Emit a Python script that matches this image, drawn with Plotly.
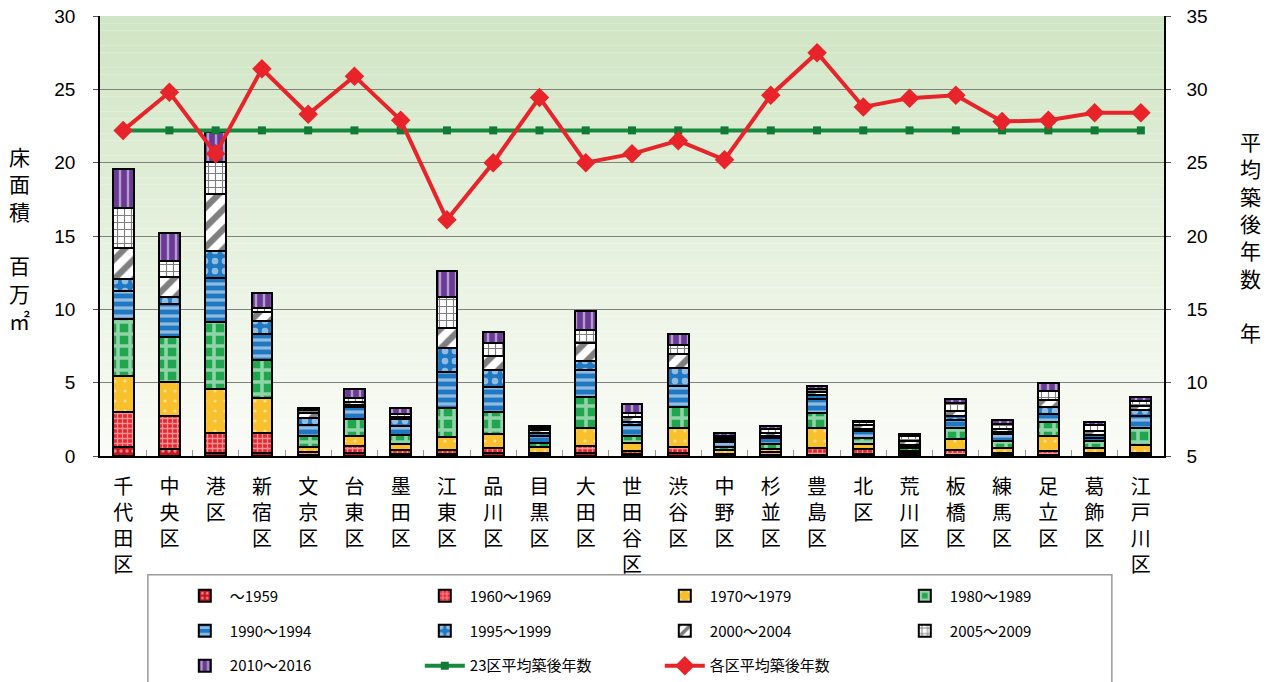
import plotly.graph_objects as go

wards = ["千代田区", "中央区", "港区", "新宿区", "文京区", "台東区", "墨田区", "江東区",
         "品川区", "目黒区", "大田区", "世田谷区", "渋谷区", "中野区", "杉並区", "豊島区",
         "北区", "荒川区", "板橋区", "練馬区", "足立区", "葛飾区", "江戸川区"]

# floor area (million m2) by construction period
p_1959 = [0.59, 0.50, 0.23, 0.18, 0.10, 0.18, 0.13, 0.11, 0.18, 0.05, 0.18, 0.11, 0.18, 0.05, 0.08, 0.10, 0.15, 0.08, 0.09, 0.08, 0.08, 0.08, 0.08]
p_1960s = [2.39, 2.25, 1.31, 1.41, 0.20, 0.50, 0.28, 0.30, 0.34, 0.18, 0.50, 0.23, 0.46, 0.12, 0.17, 0.42, 0.30, 0.10, 0.30, 0.15, 0.24, 0.15, 0.15]
p_1970s = [2.47, 2.27, 3.00, 2.34, 0.34, 0.68, 0.41, 0.91, 0.98, 0.36, 1.21, 0.52, 1.25, 0.25, 0.25, 1.37, 0.35, 0.15, 0.75, 0.30, 1.05, 0.34, 0.52]
p_1980s = [3.89, 3.11, 4.62, 2.61, 0.73, 1.18, 0.61, 1.98, 1.52, 0.27, 2.11, 0.52, 1.47, 0.20, 0.35, 1.06, 0.45, 0.20, 0.75, 0.50, 0.95, 0.45, 1.18]
p_1990_94 = [1.91, 2.23, 2.95, 1.78, 0.75, 0.82, 0.61, 2.45, 1.71, 0.50, 1.86, 0.73, 1.41, 0.35, 0.35, 0.94, 0.45, 0.15, 0.55, 0.45, 0.57, 0.23, 0.80]
p_1995_99 = [0.82, 0.50, 1.89, 0.91, 0.45, 0.10, 0.45, 1.59, 1.13, 0.18, 0.64, 0.23, 1.21, 0.12, 0.15, 0.25, 0.15, 0.10, 0.30, 0.18, 0.45, 0.18, 0.39]
p_2000_04 = [2.13, 1.36, 3.84, 0.61, 0.34, 0.22, 0.20, 1.41, 0.96, 0.20, 1.18, 0.30, 0.97, 0.12, 0.20, 0.20, 0.25, 0.25, 0.34, 0.20, 0.45, 0.27, 0.30]
p_2005_09 = [2.70, 1.07, 2.22, 0.23, 0.24, 0.30, 0.20, 2.11, 0.86, 0.18, 0.91, 0.31, 0.62, 0.15, 0.30, 0.25, 0.20, 0.30, 0.50, 0.30, 0.65, 0.39, 0.30]
p_2010_16 = [2.65, 1.93, 2.04, 1.02, 0.10, 0.61, 0.41, 1.77, 0.80, 0.15, 1.32, 0.57, 0.72, 0.20, 0.20, 0.20, 0.10, 0.15, 0.34, 0.27, 0.55, 0.23, 0.30]

# average building age (years)
ward_avg_age = [27.2, 29.8, 25.6, 31.4, 28.3, 30.9, 27.9, 21.1, 25.0, 29.45, 25.0, 25.6, 26.5, 25.2, 29.6, 32.5, 28.8, 29.4, 29.6, 27.8, 27.9, 28.4, 28.4]
all23_avg_age = [27.2, 27.2, 27.2, 27.2, 27.2, 27.2, 27.2, 27.2, 27.2, 27.2, 27.2, 27.2, 27.2, 27.2, 27.2, 27.2, 27.2, 27.2, 27.2, 27.2, 27.2, 27.2, 27.2]

series = [
    ("～1959", p_1959, "#c8141e", ".", "#ffffff", 6, 0.25, "legend"),
    ("1960～1969", p_1960s, "#e8262c", "+", "#ffffff", 5, 0.45, "legend"),
    ("1970～1979", p_1970s, "#f7c02c", ".", "#ffffff", 10, 0.08, "legend"),
    ("1980～1989", p_1980s, "#1fa64e", "+", "#ffffff", 12, 0.5, "legend"),
    ("1990～1994", p_1990_94, "#1f78c1", "-", "#ffffff", 8, 0.4, "legend2"),
    ("1995～1999", p_1995_99, "#1f78c1", ".", "#ffffff", 10, 0.35, "legend2"),
    ("2000～2004", p_2000_04, "#ffffff", "/", "#000000", 14, 0.45, "legend2"),
    ("2005～2009", p_2005_09, "#ffffff", "+", "#000000", 7, 0.3, "legend2"),
    ("2010～2016", p_2010_16, "#6a3a96", "|", "#ffffff", 8, 0.3, "legend3"),
]

tick_text = ["<br>".join(list(w)) for w in wards]

fig = go.Figure()
for name, vals, bg, shape, fg, size, sol, lg in series:
    fig.add_trace(go.Bar(
        x=wards, y=vals, name=name, legend=lg, width=0.45,
        marker=dict(color=bg, line=dict(color="#000000", width=2),
                    pattern=dict(shape=shape, fgcolor=fg, bgcolor=bg, size=size,
                                 solidity=sol, fillmode="overlay")),
        yaxis="y",
    ))

fig.add_trace(go.Scatter(
    x=wards, y=all23_avg_age, name="23区平均築後年数", legend="legend3", yaxis="y2",
    mode="lines+markers", line=dict(color="#178a3e", width=4),
    marker=dict(symbol="square", size=8, color="#117a35"),
))
fig.add_trace(go.Scatter(
    x=wards, y=ward_avg_age, name="各区平均築後年数", legend="legend3", yaxis="y2",
    mode="lines+markers", line=dict(color="#e8232a", width=4),
    marker=dict(symbol="diamond", size=15, color="#e8232a"),
))

# gradient background bands
shapes = []
n = 60
top = (208, 229, 195)
bot = (251, 252, 248)
for i in range(n):
    t = i / n
    c = tuple(int(round(bot[k] + (top[k] - bot[k]) * (t + 0.5 / n))) for k in range(3))
    shapes.append(dict(type="rect", xref="paper", yref="paper", x0=0, x1=1,
                       y0=t, y1=(i + 1) / n, fillcolor="rgb(%d,%d,%d)" % c,
                       line=dict(width=0), layer="below"))
# legend frame
shapes.append(dict(type="rect", xref="paper", yref="paper", x0=0.045, x1=0.951,
                   y0=-0.53, y1=-0.27, line=dict(color="#9a9a9a", width=1.5),
                   fillcolor="rgba(0,0,0,0)", layer="above"))

num_font = dict(family="Liberation Sans Narrow, Liberation Sans, Arial", size=19, color="#000000")
cjk = "Noto Sans CJK JP"

leg_common = dict(orientation="h", xanchor="left", yanchor="middle", entrywidth=185,
                  entrywidthmode="pixels", bgcolor="rgba(0,0,0,0)", borderwidth=0,
                  itemwidth=40, traceorder="normal",
                  font=dict(family="Liberation Sans Narrow, " + cjk, size=15, color="#000"))

fig.update_layout(
    width=1264, height=674,
    margin=dict(l=92, r=108, t=8, b=226, autoexpand=False),
    paper_bgcolor="#ffffff", plot_bgcolor="rgba(0,0,0,0)",
    barmode="stack",
    shapes=shapes,
    xaxis=dict(tickmode="array", tickvals=wards, ticktext=tick_text, range=[-0.5, 22.5],
               tickfont=dict(family=cjk, size=20, color="#000"), automargin=False,
               showline=True, linecolor="#000000", linewidth=1.5,
               ticks="inside", tickson="boundaries", ticklen=6, tickcolor="#999",
               ticklabelstandoff=12, showgrid=False),
    yaxis=dict(range=[0, 30], dtick=5, tickfont=num_font, showline=True, linecolor="#000",
               linewidth=1.5, showgrid=True, gridcolor="#808080", gridwidth=1.2,
               ticks="outside", ticklen=5, tickcolor="#555", ticklabelstandoff=14,
               zeroline=False, automargin=False, ticklabeloverflow="allow"),
    yaxis2=dict(range=[5, 35], dtick=5, tickfont=num_font, overlaying="y", side="right",
                showline=True, linecolor="#000", linewidth=1.5, showgrid=False,
                ticks="outside", ticklen=5, tickcolor="#555", ticklabelstandoff=12,
                zeroline=False, automargin=False, ticklabeloverflow="allow"),
    legend=dict(x=0.075, y=-0.318, **leg_common),
    legend2=dict(x=0.075, y=-0.398, **leg_common),
    legend3=dict(x=0.075, y=-0.477, **leg_common),
    showlegend=True,
    annotations=[
        dict(text="床<br>面<br>積<br><br>百<br>万<br>㎡", xref="paper", yref="paper",
             x=-0.076, y=0.495, xanchor="center", yanchor="middle", showarrow=False, align="center",
             font=dict(family=cjk, size=21, color="#000")),
        dict(text="平<br>均<br>築<br>後<br>年<br>数<br><br>年", xref="paper", yref="paper",
             x=1.081, y=0.50, xanchor="center", yanchor="middle", showarrow=False, align="center",
             font=dict(family=cjk, size=21, color="#000")),
    ],
)

fig.write_html("out.html")
